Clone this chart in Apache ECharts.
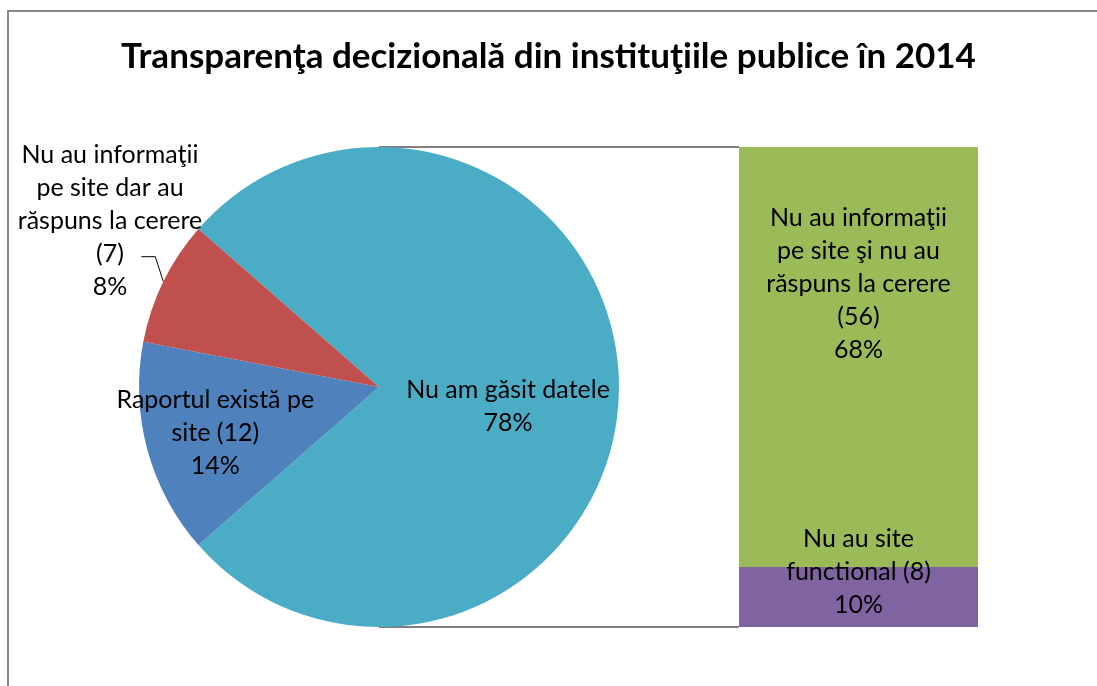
<!DOCTYPE html>
<html>
<head>
<meta charset="utf-8">
<script src="https://cdn.jsdelivr.net/npm/echarts@6/dist/echarts.min.js"></script>
<style>
  html, body { margin: 0; padding: 0; background: #fff; }
  #chart { width: 1097px; height: 686px; }
</style>
</head>
<body>
<div id="chart"></div>
<script>
// Pie slices (main group)
const pieLabels = ['Nu am găsit datele', 'Raportul există pe\nsite', 'Nu au informaţii\npe site dar au\nrăspuns la cerere\n'];
const pieCounts = [null, 12, 7]; // first slice = sum of the bar group
const piePercents = [78, 14, 8];
// Bar group (breakdown of "Nu am găsit datele")
const barLabels = ['Nu au site\nfunctional', 'Nu au informaţii\npe site şi nu au\nrăspuns la cerere\n'];
const barCounts = [8, 56];
const barPercents = [10, 68];

const pieColors = ['#4BACC6', '#4F81BD', '#C0504D'];
const barColors = ['#8064A2', '#9BBB59'];

const groupTotal = barCounts.reduce((a, b) => a + b, 0);
const pieValues = pieCounts.map(v => (v === null ? groupTotal : v));
const total = pieValues.reduce((a, b) => a + b, 0);

const center = [379, 387];
const radius = 240;
const barGrid = { left: 739, top: 147, width: 239, height: 480 };
const startAngle = (pieValues[0] / total) * 180;

const fontFamily = 'Lato, "Open Sans", sans-serif';
const labelStyle = { color: '#000', fontSize: 25, lineHeight: 33, fontFamily };

function pieText(i) {
  const cnt = pieCounts[i] === null ? '' : (pieLabels[i].endsWith('\n') ? '' : ' ') + '(' + pieCounts[i] + ')';
  return pieLabels[i] + cnt + '\n' + piePercents[i] + '%';
}
function barText(i) {
  const cnt = (barLabels[i].endsWith('\n') ? '' : ' ') + '(' + barCounts[i] + ')';
  return barLabels[i] + cnt + '\n' + barPercents[i] + '%';
}

const chart = echarts.init(document.getElementById('chart'));

const option = {
  animation: false,
  title: {
    text: 'Transparenţa decizională din instituţiile publice în 2014',
    left: 'center',
    top: 34,
    textStyle: { fontSize: 35, fontWeight: 'bold', color: '#000', fontFamily }
  },
  grid: barGrid,
  xAxis: { type: 'category', data: [''], show: false },
  yAxis: { type: 'value', min: 0, max: groupTotal, show: false },
  graphic: [
    {
      type: 'rect', silent: true, z: -10,
      shape: { x: 8, y: 11, width: 1200, height: 800 },
      style: { fill: 'none', stroke: '#898989', lineWidth: 2 }
    },
    {
      type: 'line', silent: true,
      shape: { x1: center[0], y1: center[1] - radius, x2: barGrid.left, y2: barGrid.top },
      style: { stroke: '#000', lineWidth: 1 }
    },
    {
      type: 'line', silent: true,
      shape: { x1: center[0], y1: center[1] + radius, x2: barGrid.left, y2: barGrid.top + barGrid.height },
      style: { stroke: '#000', lineWidth: 1 }
    }
  ],
  series: [
    {
      type: 'pie',
      center: center,
      radius: radius,
      startAngle: startAngle,
      clockwise: true,
      avoidLabelOverlap: false,
      data: pieValues.map((v, i) => ({
        value: v,
        itemStyle: { color: pieColors[i] },
        label: {
          show: true,
          position: i === 2 ? 'outside' : 'inside',
          formatter: pieText(i),
          align: 'center',
          ...labelStyle
        },
        labelLine: { show: i === 2, length: 10, length2: 10, lineStyle: { color: '#000', width: 1 } }
      })),
      labelLayout: function (p) {
        if (p.dataIndex === 0) return { dx: 6, dy: 19 };
        if (p.dataIndex === 1) return { dx: -45, dy: 14 };
        const s = p.labelLinePoints ? p.labelLinePoints[0] : [164, 281];
        return {
          x: 110, y: 221, align: 'center', verticalAlign: 'middle',
          labelLinePoints: [s, [s[0] - 8, s[1] - 25], [s[0] - 22, s[1] - 25]]
        };
      }
    },
    ...barCounts.map((v, i) => ({
      type: 'bar',
      stack: 'group',
      barWidth: '100%',
      data: [v],
      itemStyle: { color: barColors[i] },
      label: {
        show: true,
        position: 'inside',
        formatter: barText(i),
        offset: i === 0 ? [0, -25] : [0, -73],
        ...labelStyle
      }
    }))
  ]
};

chart.setOption(option);
</script>
</body>
</html>
